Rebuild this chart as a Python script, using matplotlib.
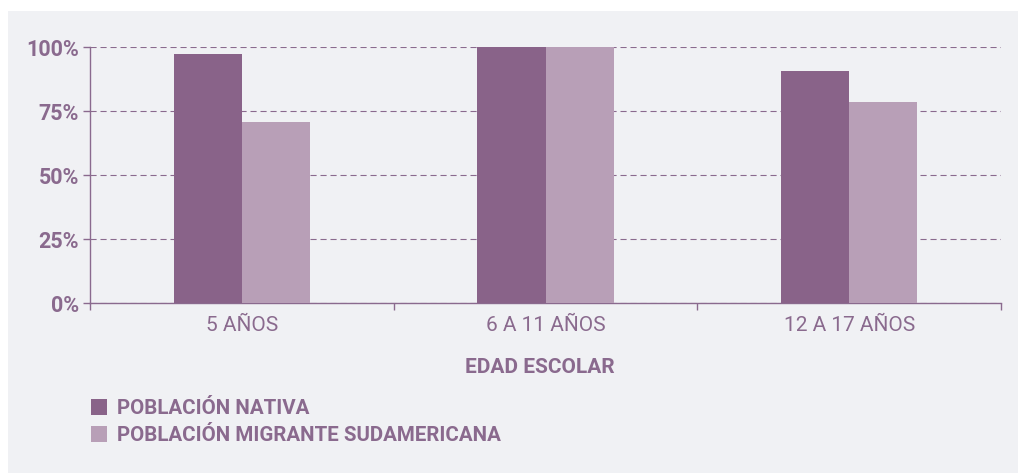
import matplotlib.pyplot as plt
import numpy as np
from matplotlib.patches import Rectangle

# Data
categorias = ["5 AÑOS", "6 A 11 AÑOS", "12 A 17 AÑOS"]
nativa = [97.3, 100, 90.6]
migrante = [70.7, 100, 78.5]
series = ["POBLACIÓN NATIVA", "POBLACIÓN MIGRANTE SUDAMERICANA"]

c_dark = "#896389"
c_light = "#b89fb7"
c_text = "#8a6a8e"
c_bg = "#f0f1f4"

plt.rcParams["font.family"] = ["Roboto", "DejaVu Sans"]

fig = plt.figure(figsize=(10.18, 4.73), dpi=100)
fig.patch.set_facecolor("white")
fig.patches.append(Rectangle((8/1018, 0), 1 - 8/1018, 1 - 11/473,
                             transform=fig.transFigure, facecolor=c_bg,
                             edgecolor="none", zorder=-10))

ax = fig.add_axes([90/1018, 1 - 303/473, (1001 - 90)/1018, (303 - 47)/473])
ax.patch.set_alpha(0)

x = np.arange(len(categorias))
w = 0.224
ax.bar(x - w/2, nativa, w, color=c_dark, label=series[0], zorder=3)
ax.bar(x + w/2, migrante, w, color=c_light, label=series[1], zorder=3)

ax.set_xlim(-0.5, 2.5)
ax.set_ylim(0, 100)
ax.set_yticks([0, 25, 50, 75, 100])
ax.set_yticklabels(["0%", "25%", "50%", "75%", "100%"], fontsize=15.5,
                   fontweight="bold", color=c_text)
ax.set_xticks(x)
ax.set_xticklabels(categorias, fontsize=15, color=c_text)
ax.set_xticks([-0.5, 0.5, 1.5, 2.5], minor=True)
ax.tick_params(axis="x", which="major", length=0, pad=9)
ax.tick_params(axis="x", which="minor", length=5, color=c_text, width=1)
ax.tick_params(axis="y", length=5, color=c_text, width=1, pad=3)

ax.grid(axis="y", linestyle=(0, (5.5, 3.5)), color=c_text, linewidth=0.8, zorder=0)
for s in ["top", "right"]:
    ax.spines[s].set_visible(False)
for s in ["left", "bottom"]:
    ax.spines[s].set_color(c_text)
    ax.spines[s].set_linewidth(1)

fig.text(540/1018, 1 - 367.5/473, "EDAD ESCOLAR", ha="center", va="center",
         fontsize=15, fontweight="bold", color=c_text)

leg = fig.legend(loc="upper left", bbox_to_anchor=(83/1018, 1 - 391/473),
                 frameon=False, handlelength=0.78, handleheight=0.78,
                 handletextpad=0.45, labelspacing=0.38, borderaxespad=0,
                 prop={"size": 14.8, "weight": "bold"})
for t in leg.get_texts():
    t.set_color(c_text)

fig.savefig("out.png", dpi=100)
